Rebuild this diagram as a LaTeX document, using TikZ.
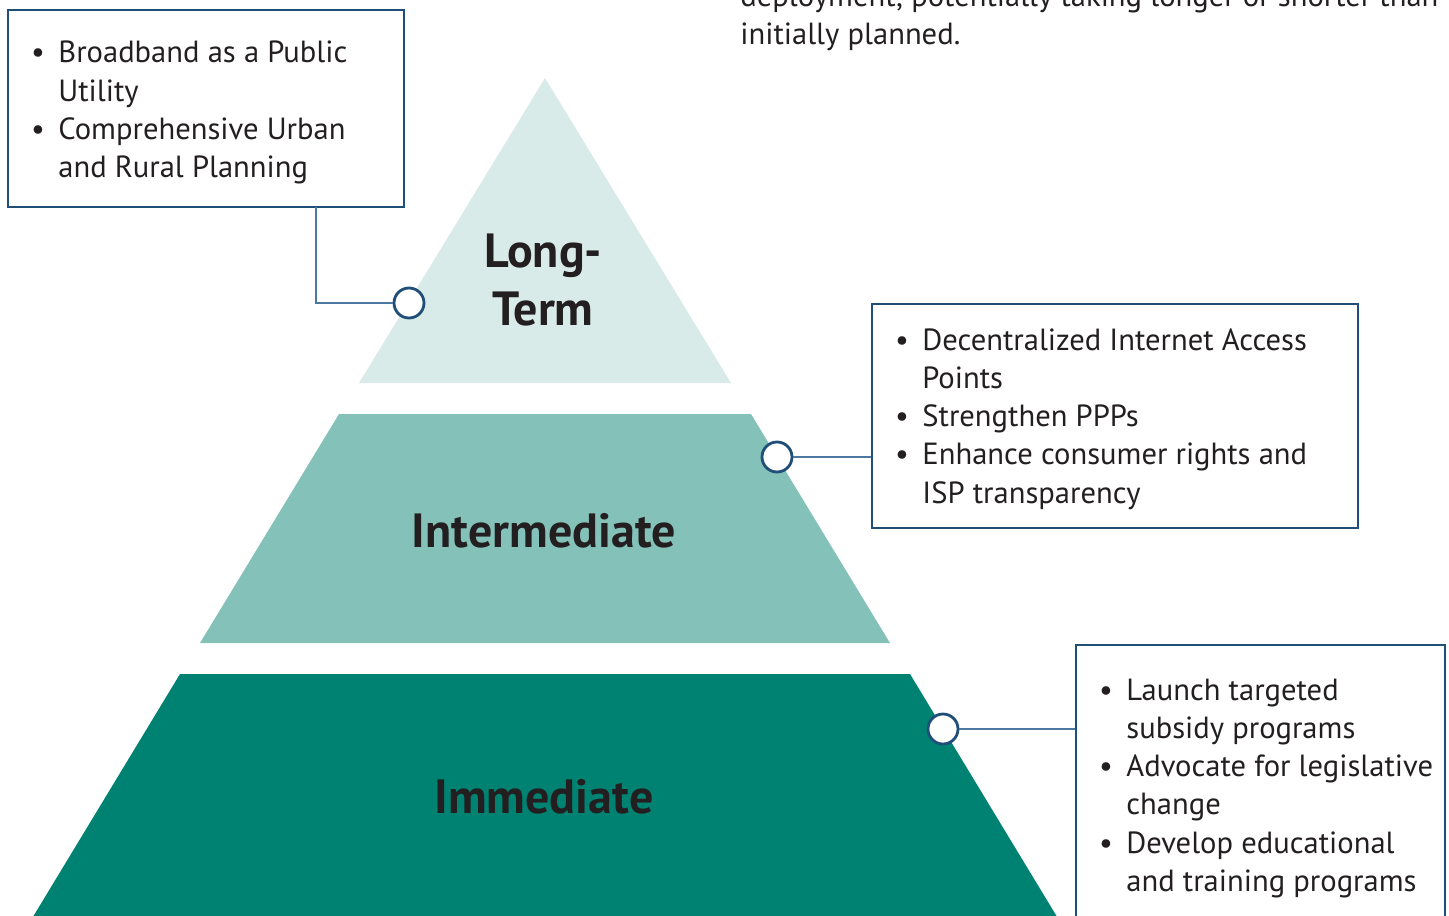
\documentclass[tikz,border=0pt]{standalone}
\usepackage{fontspec}
\setmainfont{PT Sans}
\definecolor{tierTop}{HTML}{D9EBE8}
\definecolor{tierMid}{HTML}{84C2B9}
\definecolor{tierBase}{HTML}{008272}
\definecolor{frameBlue}{HTML}{1F4E79}
\definecolor{linkBlue}{HTML}{4C78A0}
\definecolor{ink}{HTML}{231F20}
% stacked lines, aligned on the baseline of the first one
\newcommand{\linestack}[1]{\begin{tabular}[t]{@{}l@{}}#1\end{tabular}}
\begin{document}
\begin{tikzpicture}[x=0.5pt,y=-0.5pt,
  infobox/.style={draw=frameBlue, line width=1.25pt, inner sep=0pt},
  listtext/.style={anchor=base west, inner sep=0pt, text=ink,
    font=\fontsize{15.3}{19.15}\selectfont},
  bulletmark/.style={anchor=base, inner sep=0pt, text=ink,
    font=\fontsize{15.3}{19.15}\selectfont},
  tiertitle/.style={anchor=base, inner sep=0pt, text=ink,
    font=\bfseries\fontsize{24}{29}\selectfont},
  marker/.style={circle, draw=frameBlue, fill=white, line width=1.4pt,
    minimum size=15pt, inner sep=0pt},
  link/.style={draw=linkBlue, line width=0.7pt}]
\useasboundingbox (0,0) rectangle (1449,915);

% pyramid tiers
\fill[tierTop]  (545,78) -- (731,383) -- (359,383) -- cycle;
\fill[tierMid]  (339,414) -- (751,414) -- (890,643) -- (200,643) -- cycle;
\fill[tierBase] (180,674) -- (910,674) -- (1065,930) -- (25,930) -- cycle;

% tier titles
\node[tiertitle] (lt1) at (543,267) {Long-};
\node[tiertitle] (lt2) at (543,325) {Term};
\node[tiertitle] (mid) at (544,547) {Intermediate};
\node[tiertitle] (imm) at (544,813) {Immediate};

% running text above
\node[listtext] (para) at (740,6.7) {\linestack{deployment, potentially taking longer or shorter than\\initially planned.}};

% info boxes
\node[infobox, minimum width=198pt, minimum height=98.5pt] (box1) at (206,108.5) {};
\node[infobox, minimum width=243pt, minimum height=112pt] (box2) at (1115,416) {};
\node[infobox, minimum width=184.5pt, minimum height=150pt] (box3) at (1260.5,795) {};

% box texts
\node[listtext] (b1) at (58,63) {\linestack{Broadband as a Public\\Utility\\Comprehensive Urban\\and Rural Planning}};
\node[bulletmark] (b1a) at (38,63) {•};
\node[bulletmark] (b1b) at (38,139.6) {•};

\node[listtext] (b2) at (922,350) {\linestack{Decentralized Internet Access\\Points\\Strengthen PPPs\\Enhance consumer rights and\\ISP transparency}};
\node[bulletmark] (b2a) at (902,350) {•};
\node[bulletmark] (b2b) at (902,426.6) {•};
\node[bulletmark] (b2c) at (902,464.9) {•};

\node[listtext] (b3) at (1126,700) {\linestack{Launch targeted\\subsidy programs\\Advocate for legislative\\change\\Develop educational\\and training programs}};
\node[bulletmark] (b3a) at (1106,700) {•};
\node[bulletmark] (b3b) at (1106,776.6) {•};
\node[bulletmark] (b3c) at (1106,853.2) {•};

% markers on the tier edges and their leaders
\coordinate (k1) at (316,207);
\node[marker] (m1) at (409,303) {};
\node[marker] (m2) at (777,457) {};
\node[marker] (m3) at (943,729) {};
\draw[link] (m1.west) -| (k1);
\draw[link] (m2.east) -- (box2.west |- m2.east);
\draw[link] (m3.east) -- (box3.west |- m3.east);
\end{tikzpicture}
\end{document}
